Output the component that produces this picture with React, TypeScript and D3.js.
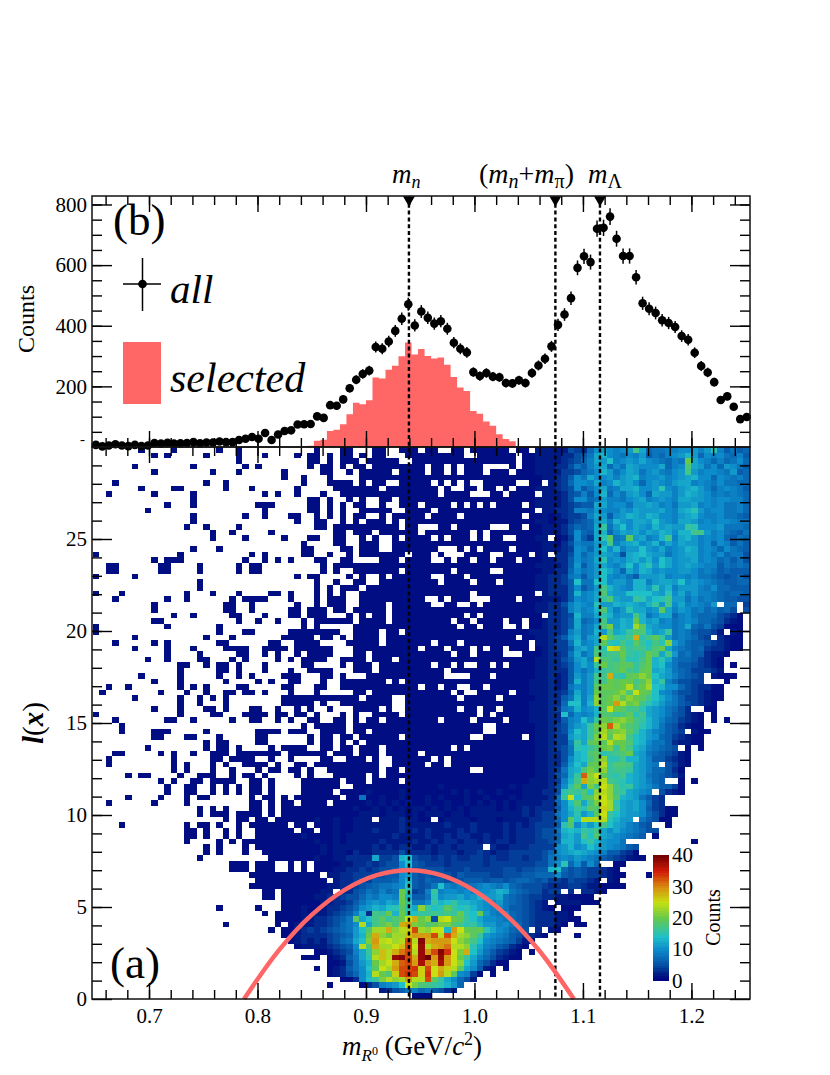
import React, { useRef, useEffect } from "react";
import * as d3 from "d3";

const FONT = "Liberation Serif";
const XMIN = 0.648;
const BIN = 0.006;
const NX = 101;
const NY = 100;

const markerMasses = [0.9396, 1.0746, 1.1157];

const allCounts = [
  7, 2, 5, 9, 5, 3, 7, 3, 5, 13, 11, 14, 11, 12, 13, 16, 12, 15, 15, 18, 16, 16, 23, 27, 33, 27, 46, 23, 41, 53,
  55, 74, 75, 76, 101, 96, 138, 136, 157, 194, 222, 241, 252, 330, 324, 348, 383, 423, 471,
  401, 447, 426, 407, 415, 390, 344, 324, 312, 247, 234, 244, 232, 230, 211, 210, 220, 211, 244, 269, 291, 332,
  403, 437, 491, 591, 629, 610, 720, 723, 760, 687, 630, 630, 560, 474, 456, 442, 418, 409, 396, 366, 354, 311,
  267, 246, 214, 155, 167, 133, 92, 99,
];

const selectedCounts = [
  0, 0, 0, 0, 0, 0, 0, 0, 0, 0, 0, 0, 0, 0, 0, 0, 0, 0, 0, 0, 0, 0, 0, 0, 0, 0, 0, 0, 0, 0, 0,
  1, 2, 4, 21, 24, 53, 57, 75, 108, 146, 141, 154, 229, 226, 255, 268, 299, 345, 305, 323, 300, 292, 295, 271,
  231, 196, 185, 119, 110, 84, 70, 42, 26, 19, 3, 1,
];

// selection curve l(m)
const curveMass = [0.7876, 0.82, 0.85, 0.88, 0.91, 0.94, 0.97, 1.0, 1.03, 1.06, 1.0916];
const curveL = [0, 2.67, 4.57, 5.92, 6.73, 7, 6.72, 5.89, 4.52, 2.61, 0];

// one char per bin, index in this string = counts
const CODE = ".123456789abcdefghijklmnopqrstuvwxyzABCDE";

// top row first, groups of ten columns
const heatRows = [
  ".......1.. ..1......1 ..1....... ....1...11 ...11..111 .11..11.11 1111.11.22 2225437aba 9abhc78899 aab9bf9686 7",
  ".........1 .1.....1.. ..1...1... .1.11.1.11 .1.11...11 1111111..1 11111.1122 2233568cda 98a9b6879a bdb7a9a879 6",
  ".......... .......... ..1....... ...11.1.11 1.11111..1 1111111111 11111.1122 2234579cbe 9abaca9879 8kca97978a 7",
  "......1... .....1.... ...1.1.... ...1.11.1. 11.1111111 1.11.1.111 ....1.1122 2335869bc7 a8cbaaac79 aicb8a7ba8 6",
  ".........1 ........1. ..1......1 .....11..1 .11111.111 1.11.1.111 .111.11122 2244578adb 8acb8ab98a bhb9aa98b6 7",
  ".......... .......... .........1 ..1...1... .111111111 1111111111 1111111112 2346a8caab 9bcd9aab9a bcdaa7a989 7",
  "...1...... .......1.. 1......... ..1...1111 .1.11..111 11.1.1.1.. 11111..11. 2347aa9c9a dbca7aba9b cc9a98a887 7",
  ".......1.. ..11...... 1...1..... .1.....111 1111.11111 111.1..11. 11.1.11122 2345a68ac8 9ccdaabfa9 bcdb979a98 6",
  "..1......1 .....1.... ......1.1. .1...1..11 1111111111 111.1111.. .11.1111.2 2235696ad7 a8bca7cbb9 bdcba89898 7",
  ".......... .....1.... .......... ...11.1..1 .1..11.111 1111111111 1111111122 2235aa78b9 98abc9aba9 ccbba9aa99 7",
  ".......... .1...1.... .....111.. ...11.1.1. 11..1..111 .1111.1.1. 1.1111.122 2234566cc9 aa8bbcb9a8 bbc9a9a889 7",
  "........1. .......... ......1... ...11.1.1. .11111..11 11.1111111 11111111.2 2334998ba9 9bacbbbca9 cdfb9aa889 7",
  ".......... .....1.... ...1..1... 11..1.1.1. 11..1.1111 1.1111.111 111111.112 1234459cb6 abdcbdcaa9 bcda99a887 6",
  ".......... .....1.... .......... .1..11..1. 1.111.1.11 1111111111 1111111122 1224567bc9 dbaccbeba9 ccb9a9aa98 8",
  ".......... ....1..1.. ..1....... ....11.111 1111111.11 ...11.1111 1...11.112 2235767cg8 beacbadbcb bgfaaab888 7",
  ".......... ........1. .1.....1.. .......11. 111.111111 .1111111.1 .111111112 2235a76cd7 acbcacbdca ddhhb9a876 8",
  ".......... ........1. ...1.....1 ...11..11. .1.1..1.11 11.1.111.1 .11..11122 .124a64cfj 89jbc9adh9 cdb9a9a768 7",
  ".......... .......... .......... ..1....11. .111..1111 1111111111 1111111112 2135988bch 9bcdabd9ca cbb9a7a968 6",
  ".......... .....1...1 .......... ..11....11 .111..1111 111...1.1. 1111.11112 2234a97bea d9bbebac9a bdc9a97a87 6",
  "1......... ...1...... ....1.1... ..11..1..1 .1111111.1 11.1...111 1..1111.12 .335a79bcb a5cdecbb8a bcc9a8a788 5",
  ".........1 .111...... ...1..1.1. 1...11..11 ....111.11 11..1.11.1 1.111.1112 2336a89cfa bacdbdaeca bbc9a97868 5",
  "..11...... 11....1... ..1.11.... .....1.111 1111111111 1111111111 1111111122 2236b69bca 9beadfbeca bcba996878 7",
  "..11...... 11....1... ..1.11.... .....1.1.. 1111111.11 11111.1111 1..1111112 2337a89bec a7cadcabaa bba8986766 6",
  "1.....1... .......... .......... .1.11....1 .1..1.1111 11..111.11 1111111122 3348969bea 9a86bbbc9a a9a8876567 5",
  ".......... ......1... .......... ....1..1.. 11..111111 111.1111.1 11.1111122 3346e88eea bb9dd9bccb eaba987667 7",
  ".......... ......1... .......... ....1.1.11 1.11111111 1111111111 1111111122 3336a68bhd ba9ddbfbd9 bbb98a7766 6",
  "1...1..... ....1...1. ..1....11. 1...1.1.1. .111111111 11111111.1 11111111.2 3336d9acic bbeeeecbfa c9b9987677 6",
  "...1...... .1..1..... .1.1111... 1...1.111. .111111111 1..1.111.. .1111.1112 2236a9acgi cbbgfcefhb b8a8987665 5",
  ".........1 .......... 11..1..... .1..1.111. .1111.1111 11..11..1. 1111111122 3359ba9fbb dcdcbdgbha c9a98b.77. 4",
  ".........1 .......... 11..1..... 11.111.11. 11111.1111 1111111111 1111111122 3349b9adic 9bfccabjc9 ba8978675. 5",
  ".......... ..1..1.... .11...1... 11.111...1 .1.11.1111 1111111.1. 111111111. 3345d99cfd abbhd8acc7 9a87775431 .",
  ".........1 1......... ..1..1..1. ..1.111111 .1111.1111 11111.11.1 111.11.112 3346c78ahb bdckdbc9a8 9a97765321 .",
  "1......... .1.......1 .......... ..1.1..... 1111111111 111111.11. 111..1.112 3346c89cil bdcnjcbaa8 9c76854111 .",
  "1......... .........1 ...11..... 11111111.. 1111.11.11 1111111111 1111111222 3349b89dbh cdgiidbcg8 9865542.21 .",
  "......1... .......1.. .1.......1 1111.11.1. 1111.11111 1111111111 11111.1122 346ac8bcoj gfhsfhjgb8 98754.3211 .",
  "...1.....1 .1.......1 1......11. .1111....1 1111.11111 11.111.111 1111111.22 3448d9acjf ehfjgehfmb 9766543211 .",
  "......1... .1...1.... 1111..1111 .111111... 1111111111 .111.111.1 .11.111.12 3446bcahfp qjghhfikc9 8767433211 .",
  ".......... .1....1... ..11..1.1. .1.1111... 11.1111111 11111.11.1 111...1112 3348c8aigh hkgfgkichb 78663221.. .",
  "........1. .1....11.. .1.1....1. 1.1111..11 11.111.111 1111111111 1111111122 3357bc9oih gjffhkdfc8 7764321... .",
  ".......... ...11..1.1 1.1...1... ..11....1. 111.111111 11.11.1..1 1.1.111122 3346acagkh ijjgikdea8 6654321.1. .",
  ".......... ...1.....1 1.1...1... 1..1111... 111.111111 1111.11111 1111111122 3336a8adgh ikhgjkcdb8 7644432... .",
  ".......1.. ...1.....1 ..1.1....1 11...11.1. ..11111111 1111....11 1.11111122 3236b9bhhs gfjkmkecb9 7654.2111. .",
  ".........1 ...1...... 1....1.1.. 11...1..11 11111.1.11 1111111111 1111111222 3236d9bhhk jkkhjmdg97 5544...1.. .",
  "..1..1.... ...1.1.1.. ..11.....1 1...11..11 1111111111 .11.11..11 .111111222 3238a9bjkk jkoiknedaa 7543311... .",
  ".1........ 1...1..1.. 11.11.1... 1...1..... 11.1111111 11111.1..1 1111.11222 3347c9bkjj kmipkjea97 5543211... .",
  "......1... ...1..1.1. 1........1 1111111111 1.1111..11 111111.111 11.1111122 3368d9cmjk mjmkjheca8 6443211... .",
  ".......... ...1..1... 1........1 1111.1..11 111111..11 1111111111 1111111222 337ee9dmjk toklhfdb98 654321.... .",
  ".........1 ...1...11. 1...11..1. .1.1..1... 1111.1..11 111111.11. 11.1111222 3489dabdjp kjhhfcba87 53..11.... .",
  "1......... ...1....11 ...1111.11 .11.1...1. 1..1111.11 111111111. 1.11111222 33e7a9adii ghjfhcba86 5321.1.... .",
  "...1...... .11..1.... .1..11..1. 1..11..11. 1.11.11111 111.1111.1 111.111222 3369aebgkj lmkhgdb976 4321.1.1.. .",
  "....1..... .......... .......... ..1.11111. 1111111111 1111111111 ..11111122 3459bcgkmw nkihfdb865 3211...... .",
  "....1....1 11.....1.. .....1111. 111..1111. 11.1111111 1111111111 ..11111122 345aecgjnk lmjgdb9865 4.211..... .",
  ".........1 1...11...1 .....11... ...1.11.11 .111111.11 11111111.. 111111.122 344bdcgloj onhedba764 3211...... .",
  ".......... .......1.1 1....11... ...1.11.1. 1.11111111 1111111111 1111111122 3449gcjkjo kkieda8863 2211...... .",
  "........1. .......1.1 1.1....1.1 111..11.11 .111.11111 11111.1.11 1111111122 3458fegikl gkhdc98765 .1.1...... .",
  "...11..... 1.1..1..11 1.1111111. 111111.111 .111.11111 .111111111 1111111122 3358deijfg hikcb87654 21........ .",
  "..1....... ..1.....11 .1111..1.. 1....11..1 11.1..1111 11.1.11111 1111111122 335adehjmf fhddb96643 21........ .",
  "..1....... ..1.1...1. 1..1111.1. .11.111111 1111..1111 1.11.11111 1111111122 336becjkog iihcb98.54 21........ .",
  ".......... ..1.1...1. .1...1.11. 11.1..1111 1111.11.11 11111111.. 1111111122 348cdiljmg hhgcb97753 1......... .",
  ".....1.11. ...1..111. .1.11.1... .1.1...111 11.1.11111 1111111111 1111111122 357cgwmpjg fhdcb87654 2......... .",
  ".......... 1.1..11.11 11..11.1.. ..111111.1 11.1111.11 1111111111 1111111222 349dhsmnoh gfdcb976.. 1.1....... .",
  ".......... .1..11..1. 1.1.11.1.. ..111111.. 1111111111 1112111111 1111212222 35afjclhpm hfgcba8664 1......... .",
  ".......... .1..11..1. 1.1.11.1.. ..11111.11 1121111211 1111121212 1121112223 35fhgiemom hgcba9.532 1......... .",
  ".....1.... 1...1.11.. ....1.11.1 .1111111.1 1811211211 1212111211 2111212222 38gpeijnpm idcb8643.. .......... .",
  "..1......1 ....1..... ....11.1.1 1.1111.111 1121212121 1211211212 1212122223 37aeichlpn fcbca743.. .......... .",
  ".......... ......1.1. 1...11.1.1 1111111111 2112121212 2121212122 2212123233 36adgfjiqn gcbca64311 .......... .",
  ".......... ......1.11 1.1111.1.1 1111111111 1222122212 1222122122 2222223234 48acfbdjpg ecbba75311 .......... .",
  ".......... .......... 1.11.11.11 1111211211 222.222322 11.1222212 2212222334 47ajeoooof dbb.86511. .......... .",
  "....1..... ....1.11.1 ..1.111111 .11.111211 2222222322 2222322232 2223232344 46fiadbehe cb9865..1. .......... .",
  ".......... ....11.1.. 1.1..11111 1.11.11211 2223222323 2322223232 2223233345 58dedgfhca ca98755... .......... .",
  ".......... ....11.1.. 1.1..11111 1121111212 2222223222 2322323322 3223233345 57cdbheicb a9876.1... .......... .",
  ".......... ....1....1 .1.1111111 1111211212 2222322223 2232332332 3233233344 57ddbegdba a8........ ..1....... .",
  ".......... .......1.1 ...1.11111 1111121222 2223232332 2323323333 .322333444 4abdabecba 9865...... .......... .",
  ".......... .......1.1 ...1..1111 1111121221 3223333533 3323332334 3233444445 7abcdcba96 6431...... .......... .",
  ".......... ......1... .......111 1111211223 333c445de5 4434343344 3433443445 89a9ba9865 43211..... .......... .",
  ".......... .......... .111.111.. 1.1.111122 3343455ae6 5444344444 3444444455 8af7a6a7.. 11........ .......... .",
  ".......... .......... .111.111.. 1.1.111223 3434556ac5 5555444544 4445545566 de75654432 1......... .......... .",
  ".......... .......... ....111111 11111.2233 4444566ab6 5655546555 5445556677 7a65654432 11...1.... .......... .",
  ".......... .......... .....11111 111111.233 4546667ad6 5766565666 5665677656 44354432.2 1......... .......... .",
  ".......... .......... ....111111 1111112233 4567889af6 568e989789 a98a765554 3334432211 11........ .......... .",
  ".......... .......... ......11.1 1111122.33 5687978kf4 59g9aa9a9a abdc876553 44.3.3321. .......... .......... .",
  ".......... .......... ......11.1 1111223345 5798aa9kd6 68fabbcabd bbc8765443 3221111... .......... .......... .",
  ".......... .......... .........1 1111122334 68abacbkg8 8agdegddcb a9b8765432 .2222111.. .......... .......... .",
  ".......... .........1 .....1...1 1121123345 7abdcefjfc mgefjgefdb a9a8665432 1.111..... .......... .......... .",
  ".......... .......... ......1.11 1121223456 9d3hgkdkfe gghghgkfek b98a765433 3221...... .......... .......... .",
  ".......... .......... ........11 1122334568 jcehjgikps km5opkjgec aa98765433 32211..... .......... .......... .",
  ".......... .......... 1.......1. 1222334578 aochjlistl kijllihfgd bb9a875433 321.11.... .......... .......... .",
  ".......... .......... .......1.1 1234345678 beinnsmoqx nmppdtpkjk fca9765.3. 21........ .......... .......... .",
  ".......... .......... .........1 1233334567 bdksmknnrt ttxoxsnmjg ba98654321 ....1..... .......... .......... .",
  ".......... .......... .......... 1232324578 celtopnoxo Dstttpmkhe a9876421.. .......... .......... .......... .",
  ".......... .......... .......... .122223456 aoisnnprxp Costvoomfc 9865321... .......... .......... .......... .",
  ".......... .......... .......... ....112345 9cgmrosvxo CtxDyplseb 864321.1.. .......... .......... .......... .",
  ".......... .......... .......... ..111.1236 8cforoCDxs CEtCtpkgc9 753211.... .......... .......... .......... .",
  ".......... .......... .......... ......1125 8bdknpswxt BusBtpmeb7 5311...... .......... .......... .......... .",
  ".......... .......... .......... ....1.1236 8aejpntxxy qxpsqojca6 21.1...... .......... .......... .......... .",
  ".......... .......... .......... ......1235 7adokiqxyx qyptoja941 .1........ .......... .......... .......... .",
  ".......... .......... .......... ........11 3aeglomnto oxjgca752. .......... .......... .......... .......... .",
  ".......... .......... .......... ......1... .1359abepl ihgfdb7... .......... .......... .......... .......... .",
  ".......... .......... .......... .......... ....235689 786532.... .......... .......... .......... .......... .",
  ".......... .......... .......... .......... .........1 11........ .......... .......... .......... .......... .",
];

const colorStops = [0, 2, 5, 10, 14, 20, 25, 30, 35, 40];
const colorValues = ["#000080", "#001a85", "#0550a5", "#0d8ccb", "#1fc0c8", "#66c94a", "#c6e012", "#d88a10", "#d01a08", "#6e0000"];

const App = () => {
  const ref = useRef<SVGSVGElement>(null);

  useEffect(() => {
    const svg = d3.select(ref.current);
    svg.selectAll("*").remove();
    svg.attr("font-family", FONT).attr("fill", "#000");

    const x = d3.scaleLinear().domain([XMIN, XMIN + NX * BIN]).range([92.6, 750]);
    const yTop = d3.scaleLinear().domain([0, 828]).range([447, 196]);
    const yLow = d3.scaleLinear().domain([0, 30]).range([999, 447]);
    const color = d3.scaleLinear<string>().domain(colorStops).range(colorValues).clamp(true);

    // heat map
    const cells = heatRows.flatMap((row, r) =>
      row.replace(/ /g, "").split("").map((ch, c) => ({ c, r, v: CODE.indexOf(ch) }))
    ).filter(d => d.v > 0);
    svg.append("g")
      .attr("shape-rendering", "crispEdges")
      .selectAll("rect")
      .data(cells)
      .join("rect")
      .attr("x", d => x(XMIN + d.c * BIN))
      .attr("width", x(XMIN + BIN) - x(XMIN))
      .attr("y", d => yLow(30 - d.r * 0.3))
      .attr("height", yLow(0) - yLow(0.3))
      .attr("fill", d => color(d.v));

    // selected histogram
    const area = d3.area<number>()
      .x((d, i) => x(XMIN + i * BIN))
      .y0(yTop(0))
      .y1(d => yTop(d))
      .curve(d3.curveStepAfter);
    svg.append("path")
      .datum([...selectedCounts, ...d3.range(NX - selectedCounts.length + 1).map(() => 0)])
      .attr("fill", "#ff6666")
      .attr("d", area);

    // dashed lines and markers
    markerMasses.forEach(m => {
      svg.append("line")
        .attr("x1", x(m)).attr("x2", x(m))
        .attr("y1", 197).attr("y2", 999)
        .attr("stroke", "#000")
        .attr("stroke-width", 2.4)
        .attr("stroke-dasharray", "4 2.8");
      svg.append("path")
        .attr("d", d3.symbol().type(d3.symbolTriangle).size(62)())
        .attr("transform", `translate(${x(m)},199.6) rotate(180)`);
    });

    // all points
    const pts = svg.append("g");
    allCounts.forEach((v, i) => {
      const cx = x(XMIN + (i + 0.5) * BIN);
      pts.append("line")
        .attr("x1", cx).attr("x2", cx)
        .attr("y1", yTop(v + Math.sqrt(v))).attr("y2", yTop(Math.max(0, v - Math.sqrt(v))))
        .attr("stroke", "#000").attr("stroke-width", 1.5);
      pts.append("circle").attr("cx", cx).attr("cy", yTop(v)).attr("r", 4.3);
    });

    // selection curve
    const curve = d3.line<number>()
      .x((d, i) => x(curveMass[i]))
      .y(d => yLow(d))
      .curve(d3.curveCatmullRom.alpha(0.5));
    svg.append("path")
      .datum(curveL)
      .attr("fill", "none")
      .attr("stroke", "#ff6666")
      .attr("stroke-width", 4.5)
      .attr("d", curve);

    // axes
    const styleAxis = (g, size = 21) => {
      g.select(".domain").remove();
      g.selectAll("line").attr("stroke", "#000").attr("stroke-width", 1.4);
      g.selectAll("text").attr("font-size", size).attr("font-family", FONT).attr("fill", "#000");
    };
    const xMinor = d3.range(33, 63).map(i => i * 0.02);
    const xMajor = [0.7, 0.8, 0.9, 1.0, 1.1, 1.2];
    const addX = (yPos, maker, labels) => {
      svg.append("g").attr("transform", `translate(0,${yPos})`)
        .call(maker(x).tickValues(xMinor).tickSize(-9).tickSizeOuter(0).tickFormat(() => ""))
        .call(styleAxis);
      svg.append("g").attr("transform", `translate(0,${yPos})`)
        .call(maker(x).tickValues(xMajor).tickSize(-16).tickSizeOuter(0).tickPadding(9)
          .tickFormat(d => labels ? d3.format(".1f")(d) : ""))
        .call(styleAxis);
    };
    addX(999, d3.axisBottom, true);
    addX(447, d3.axisBottom, false);
    addX(447, d3.axisTop, false);
    addX(196, d3.axisTop, false);

    const addY = (scale, minor, major) => {
      svg.append("g").attr("transform", "translate(92,0)")
        .call(d3.axisLeft(scale).tickValues(minor).tickSize(-10).tickSizeOuter(0).tickFormat(() => ""))
        .call(styleAxis);
      svg.append("g").attr("transform", "translate(92,0)")
        .call(d3.axisLeft(scale).tickValues(major).tickSize(-20).tickSizeOuter(0).tickPadding(5))
        .call(styleAxis);
      svg.append("g").attr("transform", "translate(750,0)")
        .call(d3.axisRight(scale).tickValues(minor).tickSize(-10).tickSizeOuter(0).tickFormat(() => ""))
        .call(styleAxis);
      svg.append("g").attr("transform", "translate(750,0)")
        .call(d3.axisRight(scale).tickValues(major).tickSize(-20).tickSizeOuter(0).tickFormat(() => ""))
        .call(styleAxis);
    };
    addY(yTop, d3.range(50, 828, 50), [200, 400, 600, 800]);
    addY(yLow, d3.range(1, 30), [0, 5, 10, 15, 20, 25]);

    [[92, 196, 658, 251], [92, 447, 658, 552]].forEach(([rx, ry, rw, rh]) => {
      svg.append("rect")
        .attr("x", rx).attr("y", ry).attr("width", rw).attr("height", rh)
        .attr("fill", "none").attr("stroke", "#111").attr("stroke-width", 1.5);
    });

    const text = (px, py, size, content, rotate = false) => {
      const t = svg.append("text")
        .attr("x", px).attr("y", py)
        .attr("font-size", size);
      if (rotate) t.attr("transform", `rotate(-90 ${px} ${py})`).attr("text-anchor", "middle");
      t.text(content);
      return t;
    };
    const span = (t, content, opts: any = {}) => {
      const s = t.append("tspan").text(content);
      if (opts.italic) s.attr("font-style", "italic");
      if (opts.bold) s.attr("font-weight", "bold");
      if (opts.size) s.attr("font-size", opts.size);
      if (opts.dy) s.attr("dy", opts.dy);
      return s;
    };

    text(80, 447, 15, "-").attr("y", 444);
    text(34, 319, 24, "Counts", true);
    text(113, 235, 45, "(b)");
    text(110, 978, 45, "(a)");
    text(170, 303, 41, "all").attr("font-style", "italic");
    text(170, 392, 42, "selected").attr("font-style", "italic");

    // legend
    svg.append("rect").attr("x", 123).attr("y", 342).attr("width", 38).attr("height", 62).attr("fill", "#ff6666");
    svg.append("line").attr("x1", 123).attr("x2", 161).attr("y1", 284).attr("y2", 284).attr("stroke", "#000").attr("stroke-width", 1.5);
    svg.append("line").attr("x1", 142.5).attr("x2", 142.5).attr("y1", 258).attr("y2", 311).attr("stroke", "#000").attr("stroke-width", 1.5);
    svg.append("circle").attr("cx", 142.5).attr("cy", 284).attr("r", 4.3);

    // marker labels
    const mn = text(392, 183, 27, "");
    span(mn, "m", { italic: true });
    span(mn, "n", { italic: true, size: 18, dy: 5 });
    const mnp = text(479, 183, 28, "");
    span(mnp, "(");
    span(mnp, "m", { italic: true });
    span(mnp, "n", { italic: true, size: 20, dy: 5 });
    span(mnp, "+", { dy: -5 });
    span(mnp, "m", { italic: true });
    span(mnp, "π", { size: 20, dy: 5 });
    span(mnp, ")", { dy: -5 });
    const ml = text(588, 183, 27, "");
    span(ml, "m", { italic: true });
    span(ml, "Λ", { size: 20, dy: 5 });

    // axis titles
    const xt = text(342, 1055, 27, "");
    span(xt, "m", { italic: true });
    span(xt, "R", { italic: true, size: 17, dy: 6 });
    span(xt, "0", { size: 12, dy: -6 });
    span(xt, " (GeV/", { dy: 0 });
    span(xt, "c", { italic: true });
    span(xt, "2", { size: 18, dy: -10 });
    span(xt, ")", { dy: 10 });
    const lt = text(43, 723, 29, "", true);
    span(lt, "l", { italic: true, bold: true });
    span(lt, "(");
    span(lt, "x", { italic: true, bold: true });
    span(lt, ")");

    // colour bar
    const zScale = d3.scaleLinear().domain([0, 40]).range([980.5, 855]);
    svg.append("g")
      .attr("shape-rendering", "crispEdges")
      .selectAll("rect")
      .data(d3.range(0, 40, 0.8))
      .join("rect")
      .attr("x", 653).attr("width", 16)
      .attr("y", d => zScale(d + 0.8))
      .attr("height", zScale(0) - zScale(0.8) + 0.5)
      .attr("fill", d => color(d + 0.4));
    svg.append("g").attr("transform", "translate(669,0)")
      .call(d3.axisRight(zScale).tickValues([0, 10, 20, 30, 40]).tickSize(0).tickPadding(3))
      .call(g => styleAxis(g, 21));
    text(720, 917.5, 20, "Counts", true);
  }, []);

  return <svg ref={ref} width={830} height={1075} style={{ position: "absolute", left: 0, top: 0, background: "#fff" }} />;
};

export default App;
